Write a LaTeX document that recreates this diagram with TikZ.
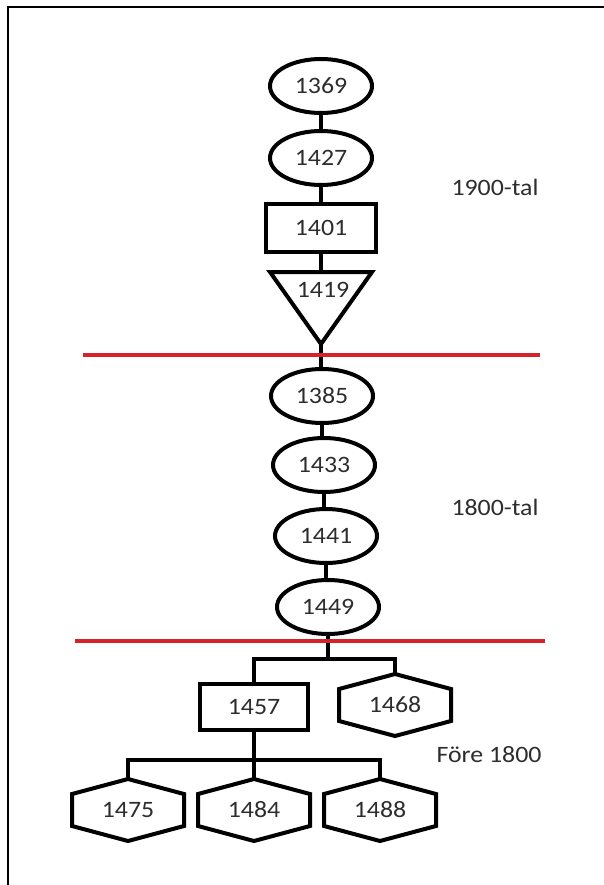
\documentclass[tikz,border=0pt]{standalone}
\usepackage{fontspec}
\setmainfont[FakeStretch=1.1]{Carlito}
\usetikzlibrary{shapes.geometric,calc}
\definecolor{redline}{RGB}{214,34,42}
\definecolor{txt}{RGB}{45,45,45}
\newcommand\hexnode[3]{%
  \node (#1) at (#2) {#3};
  \draw[shp] ($(#1.center)+(-56,-16)$) -- ++(56,-15) coordinate (#1-top)
    -- ++(56,15) -- ++(0,32) -- ++(-56,15) coordinate (#1-bot) -- ++(-56,-15) -- cycle;
}
\begin{document}
\begin{tikzpicture}[x=1pt,y=-1pt,
  every node/.style={text=txt,font=\fontsize{23.5}{26}\selectfont,inner sep=0pt},
  shp/.style={draw=black,line width=4pt},
  con/.style={draw=black,line width=4pt},
  oval/.style={shp,ellipse,minimum width=102pt,minimum height=54pt,inner sep=0pt},
  box/.style={shp,rectangle,minimum width=110pt,minimum height=47pt,inner sep=0pt},
  sep/.style={draw=redline,line width=4pt},
  frame/.style={draw=black,line width=1.5pt}]
\useasboundingbox (0,0) rectangle (604,885);
\fill[white] (0,0) rectangle (604,885);
\draw[frame] (8,885) -- (8,7) -- (604,7);

% 1900-tal
\node[oval] (n1369) at (321,86) {1369};
\node[oval] (n1427) at (321,158) {1427};
\node[box] (n1401) at (321,228) {1401};
\coordinate (tl) at (270,272);
\coordinate (tr) at (372,272);
\coordinate (tb) at (321,344);
\coordinate (ttop) at ($(tl)!0.5!(tr)$);
\draw[shp] (tl) -- (tr) -- (tb) -- cycle;
\node (n1419) at (323,290) {1419};

% 1800-tal
\node[oval] (n1385) at (322,396) {1385};
\node[oval] (n1433) at (324,465) {1433};
\node[oval] (n1441) at (326,536) {1441};
\node[oval] (n1449) at (328,607) {1449};

\draw[con] (n1369.south) -- (n1427.north);
\draw[con] (n1427.south) -- (n1401.north);
\draw[con] (n1401.south) -- (ttop);
\draw[con] (tb) -- (tb |- n1385.north);
\draw[con] (n1385.south) -- (n1385.south |- n1433.north);
\draw[con] (n1433.south) -- (n1433.south |- n1441.north);
\draw[con] (n1441.south) -- (n1441.south |- n1449.north);

% Före 1800
\node[box,minimum width=108pt,minimum height=46pt] (n1457) at (254,707) {1457};
\hexnode{n1468}{395,705}{1468}
\hexnode{n1475}{128,810}{1475}
\hexnode{n1484}{254,810}{1484}
\hexnode{n1488}{380,810}{1488}

\coordinate (j1) at ($(n1449.south)+(0,23)$);
\draw[con] (n1449.south) -- (j1);
\draw[con] (n1457.north) |- (j1) -| (n1468-top);
\coordinate (j2) at ($(n1457.south)+(0,28)$);
\draw[con] (n1457.south) -- (j2);
\draw[con] (n1475-top) |- (j2) -| (n1488-top);
\draw[con] (j2) -- (n1484-top);

% separators
\coordinate (s1a) at (83,355); \coordinate (s1b) at (540,355);
\coordinate (s2a) at (75,641); \coordinate (s2b) at (545,641);
\draw[sep] (s1a) -- (s1b);
\draw[sep] (s2a) -- (s2b);

% era labels
\node (l1900) at (495,187) {1900-tal};
\node (l1800) at (495,507) {1800-tal};
\node (lfore) at (489,755) {Före 1800};
\end{tikzpicture}
\end{document}
